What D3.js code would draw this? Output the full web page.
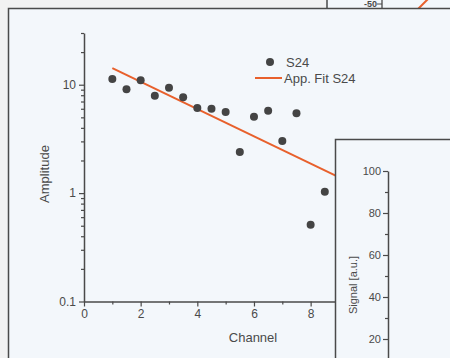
<!DOCTYPE html>
<html><head><meta charset="utf-8">
<script src="https://cdn.jsdelivr.net/npm/d3@7"></script>
<style>
html,body{margin:0;padding:0;background:#f3f3f3;}
svg{display:block;font-family:"Liberation Sans",Arial,sans-serif;}
</style></head>
<body><svg id="c" width="450" height="358"></svg>
<script>
// ---- data ----
const channel = [1.0,1.5,2.0,2.5,3.0,3.5,4.0,4.5,5.0,5.5,6.0,6.5,7.0,7.5,8.0,8.5,9.0];
const s24 = [11.3,9.1,11.0,7.9,9.4,7.65,6.1,6.0,5.6,2.4,5.07,5.75,3.02,5.45,0.51,1.03,1.0];
const fitX = [1.0,10.0];
const fitY = [14.2,1.05];
const xTicks = [0,2,4,6,8,10];
const xMinor = [1,3,5,7,9];
const yTicks = [0.1,1,10];
const yTickLabels = ["0.1","1","10"];
const yMinor = [0.2,0.3,0.4,0.5,0.6,0.7,0.8,0.9,2,3,4,5,6,7,8,9,20,30];
const insetTicks = [20,40,60,80,100];
const insetMinor = [10,30,50,70,90];
const bgTick = [-50];

const svg = d3.select("#c");
const ink = "#4a4a4a";
const panelFill = "#f3f7fb";
const orange = "#e8602c";

// background page
svg.append("rect").attr("width",450).attr("height",358).attr("fill","#f2f2f2");

// fragment of another plot at top right
const bg = svg.append("g");
bg.append("rect").attr("x",327).attr("y",-2).attr("width",130).attr("height",11)
  .attr("fill",panelFill).attr("stroke",ink).attr("stroke-width",1.5);
const yBg = d3.scaleLinear([-50,-40],[4,-30]);
bg.append("line").attr("x1",382).attr("x2",382).attr("y1",-2).attr("y2",8).attr("stroke",ink).attr("stroke-width",1.3);
bg.selectAll("text.bgt").data(bgTick).join("text").attr("x",377).attr("y",d=>yBg(d)).attr("dy","0.35em")
  .attr("text-anchor","end").attr("font-size",9).attr("font-weight","bold").attr("fill",ink).text(d=>d);
bg.append("line").attr("x1",377).attr("x2",382).attr("y1",4).attr("y2",4).attr("stroke",ink);
bg.append("line").attr("x1",418).attr("y1",9).attr("x2",428).attr("y2",-1).attr("stroke",orange).attr("stroke-width",2);

// main panel
svg.append("rect").attr("x",8.5).attr("y",8.5).attr("width",470).attr("height",370)
  .attr("fill",panelFill).attr("stroke",ink).attr("stroke-width",1.5);

const x = d3.scaleLinear([0,10],[84,367.3]);
const y = d3.scaleLog([0.1,30],[301.5,33]);

const gY = svg.append("g").attr("transform","translate(84,0)");
gY.call(d3.axisLeft(y).tickValues(yTicks).tickFormat((d,i)=>yTickLabels[i]).tickSize(5).tickSizeOuter(0).tickPadding(3));
const gYm = svg.append("g").attr("transform","translate(84,0)");
gYm.call(d3.axisLeft(y).tickValues(yMinor).tickFormat("").tickSize(3).tickSizeOuter(0));
gYm.select(".domain").remove();

const gX = svg.append("g").attr("transform","translate(0,301.5)");
gX.call(d3.axisBottom(x).tickValues(xTicks).tickSize(5).tickSizeOuter(0).tickPadding(3));
const gXm = svg.append("g").attr("transform","translate(0,301.5)");
gXm.call(d3.axisBottom(x).tickValues(xMinor).tickFormat("").tickSize(3).tickSizeOuter(0));
gXm.select(".domain").remove();

[gY,gYm,gX,gXm].forEach(g=>{
  g.selectAll(".domain").attr("stroke",ink).attr("stroke-width",1.5);
  g.selectAll(".tick line").attr("stroke",ink).attr("stroke-width",1.2);
  g.selectAll(".tick text").attr("fill",ink).attr("font-size",12).attr("font-family","Liberation Sans, Arial, sans-serif");
});

// fit line
const line = d3.line().x((d,i)=>x(fitX[i])).y((d,i)=>y(fitY[i]));
svg.append("path").datum(fitX).attr("d",line).attr("fill","none").attr("stroke",orange).attr("stroke-width",2);

// points
svg.append("g").selectAll("circle").data(channel).join("circle")
  .attr("cx",d=>x(d)).attr("cy",(d,i)=>y(s24[i])).attr("r",4).attr("fill","#444");

// axis titles
svg.append("text").attr("x",253).attr("y",342).attr("text-anchor","middle").attr("font-size",13).attr("fill",ink).text("Channel");
svg.append("text").attr("transform","translate(48.5,174) rotate(-90)").attr("text-anchor","middle").attr("font-size",13).attr("fill",ink).text("Amplitude");

// legend
svg.append("circle").attr("cx",270).attr("cy",62).attr("r",4).attr("fill","#444");
svg.append("text").attr("x",286).attr("y",66.5).attr("font-size",13).attr("fill",ink).text("S24");
svg.append("line").attr("x1",255).attr("x2",282).attr("y1",78).attr("y2",78).attr("stroke",orange).attr("stroke-width",2);
svg.append("text").attr("x",284).attr("y",82.5).attr("font-size",13).attr("fill",ink).text("App. Fit S24");

// inset panel
svg.append("rect").attr("x",335.5).attr("y",139.5).attr("width",130).attr("height",230)
  .attr("fill",panelFill).attr("stroke",ink).attr("stroke-width",1.5);
const yi = d3.scaleLinear([0,100],[381,171]);
const gI = svg.append("g").attr("transform","translate(388,0)");
gI.call(d3.axisLeft(yi).tickValues(insetTicks).tickSize(5).tickSizeOuter(0).tickPadding(2));
const gIm = svg.append("g").attr("transform","translate(388,0)");
gIm.call(d3.axisLeft(yi).tickValues(insetMinor).tickFormat("").tickSize(3).tickSizeOuter(0));
gIm.select(".domain").remove();
[gI,gIm].forEach(g=>{
  g.selectAll(".domain").attr("stroke",ink).attr("stroke-width",1.5);
  g.selectAll(".tick line").attr("stroke",ink).attr("stroke-width",1.2);
  g.selectAll(".tick text").attr("fill",ink).attr("font-size",11).attr("font-family","Liberation Sans, Arial, sans-serif");
});
svg.append("text").attr("transform","translate(356.5,285) rotate(-90)").attr("text-anchor","middle").attr("font-size",11).attr("fill",ink).text("Signal [a.u.]");
</script></body></html>
